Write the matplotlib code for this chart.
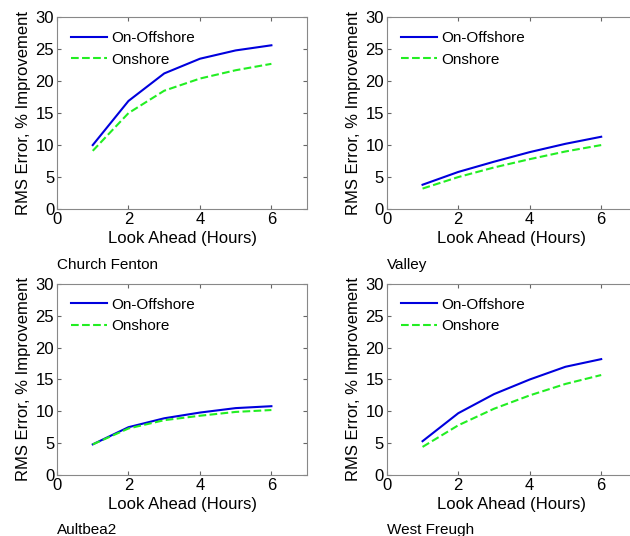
"""
RMS error improvement vs look-ahead for four stations
"""
import matplotlib
matplotlib.use('Agg')
import matplotlib.pyplot as plt

plt.rcParams['font.family'] = ['Liberation Sans', 'DejaVu Sans']

# Données
look_ahead = [1, 2, 3, 4, 5, 6]
stations = ['Church Fenton', 'Valley', 'Aultbea2', 'West Freugh']

church_on_off = [10.0, 16.9, 21.2, 23.5, 24.8, 25.6]
church_onshore = [9.1, 15.0, 18.5, 20.4, 21.7, 22.7]

valley_on_off = [3.8, 5.8, 7.4, 8.9, 10.2, 11.3]
valley_onshore = [3.2, 5.0, 6.5, 7.8, 9.0, 10.0]

aultbea_on_off = [4.8, 7.5, 8.9, 9.8, 10.5, 10.8]
aultbea_onshore = [4.8, 7.3, 8.6, 9.3, 9.9, 10.2]

freugh_on_off = [5.3, 9.7, 12.7, 15.0, 17.0, 18.2]
freugh_onshore = [4.4, 7.8, 10.4, 12.5, 14.3, 15.7]

series = [
    (church_on_off, church_onshore),
    (valley_on_off, valley_onshore),
    (aultbea_on_off, aultbea_onshore),
    (freugh_on_off, freugh_onshore),
]

# Positions des axes (fraction de la figure)
positions = [
    [0.0905, 0.610, 0.397, 0.358],
    [0.614, 0.610, 0.397, 0.358],
    [0.0905, 0.114, 0.397, 0.356],
    [0.614, 0.114, 0.397, 0.356],
]
label_pos = [(0.0905, 0.498), (0.614, 0.498), (0.0905, 0.003), (0.614, 0.003)]

fig = plt.figure(figsize=(6.3, 5.36), dpi=100)

for i, (on_off, onshore) in enumerate(series):
    ax = fig.add_axes(positions[i])
    ax.plot(look_ahead, on_off, color='#0000dd', lw=1.5, label='On-Offshore')
    ax.plot(look_ahead, onshore, color='#22ee22', lw=1.5, ls='--', label='Onshore')
    ax.set_xlim(0, 7)
    ax.set_ylim(0, 30)
    ax.set_xticks([0, 2, 4, 6])
    ax.set_yticks([0, 5, 10, 15, 20, 25, 30])
    ax.tick_params(direction='in', top=True, right=True, labelsize=12, length=3, color='#666666', pad=2)
    for s in ax.spines.values():
        s.set_color('#888888')
        s.set_linewidth(0.8)
    ax.set_xlabel('Look Ahead (Hours)', fontsize=12, labelpad=3)
    ax.set_ylabel('RMS Error, % Improvement', fontsize=12, labelpad=3)
    ax.legend(loc='upper left', frameon=False, fontsize=11, handlelength=2.4,
              handletextpad=0.25, labelspacing=0.5, borderaxespad=0.5)
    fig.text(label_pos[i][0], label_pos[i][1], stations[i], fontsize=11)

plt.savefig('out.png', dpi=100)
